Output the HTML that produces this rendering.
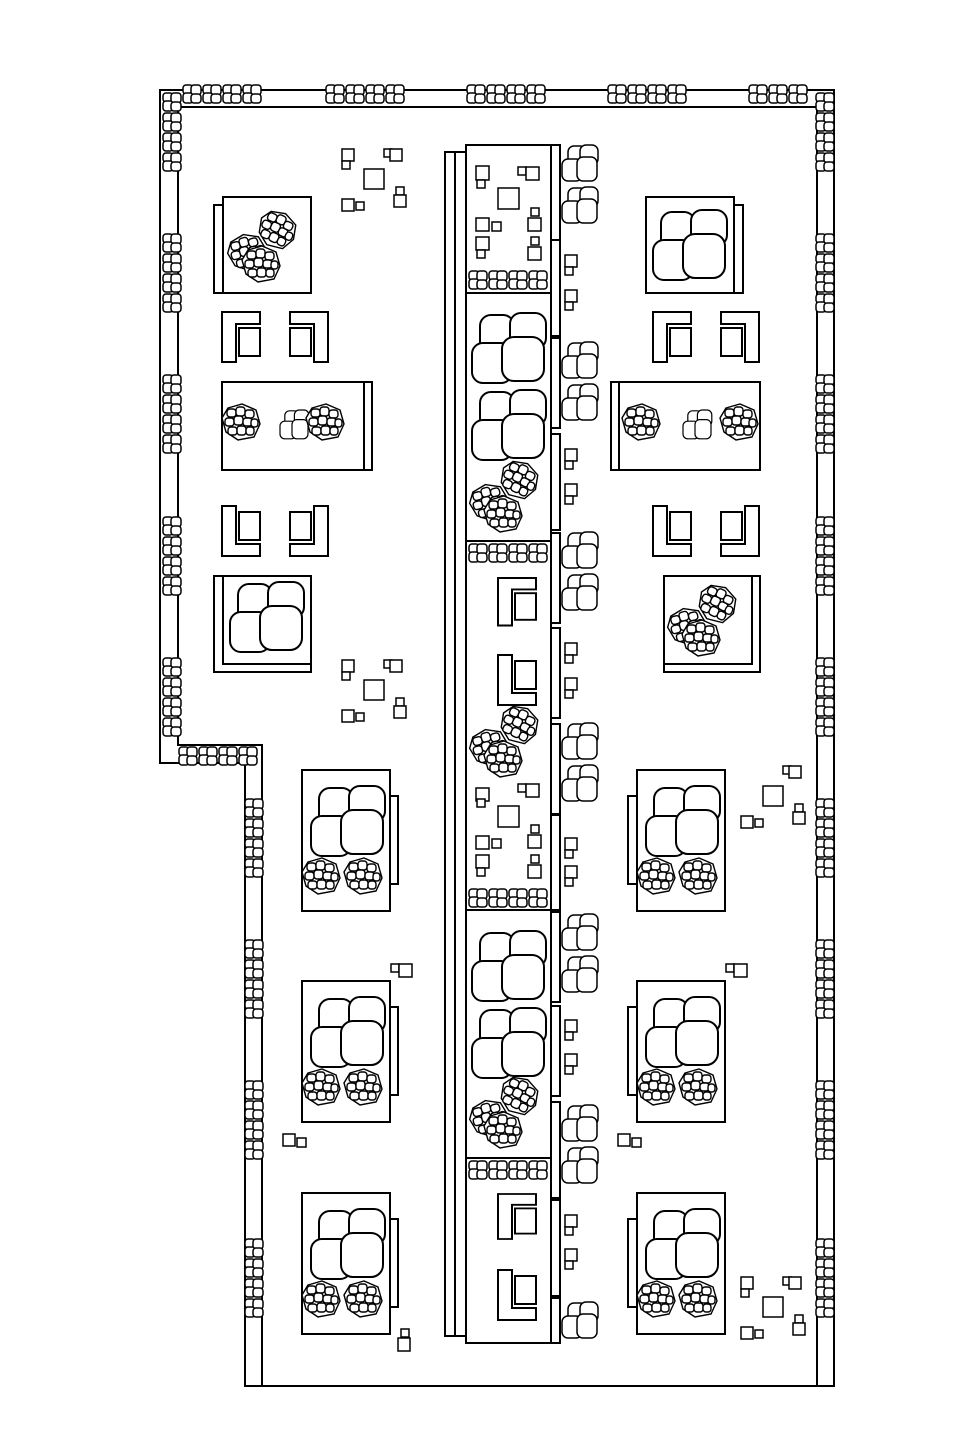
<!DOCTYPE html>
<html><head><meta charset="utf-8"><style>html,body{margin:0;padding:0;background:#fff}svg{display:block}</style></head><body>
<svg width="978" height="1454" viewBox="0 0 978 1454" xmlns="http://www.w3.org/2000/svg">
<defs>
<g id="sh" fill="#fff" stroke="#000" stroke-width="1.5">
<rect x="1" y="1" width="10" height="9" rx="3"/><rect x="9" y="1" width="10" height="10" rx="3"/><rect x="1" y="9" width="10" height="10" rx="3"/><rect x="9" y="10" width="10" height="9" rx="3"/>
</g>
<g id="sh4"><use href="#sh" x="0"/><use href="#sh" x="20"/><use href="#sh" x="40"/><use href="#sh" x="60"/></g>
<g id="sv4"><use href="#sh" y="0"/><use href="#sh" y="20"/><use href="#sh" y="40"/><use href="#sh" y="60"/></g>
<g id="big" fill="#fff" stroke="#000" stroke-width="2">
<rect x="8" y="2" width="34" height="38" rx="11"/><rect x="38" y="0" width="36" height="36" rx="11"/><rect x="0" y="30" width="40" height="40" rx="11"/><rect x="30" y="24" width="42" height="44" rx="12"/>
</g>
<g id="pair" fill="#fff" stroke="#000" stroke-width="1.5">
<rect x="6" y="1" width="18" height="20" rx="6"/><rect x="18" y="0" width="18" height="20" rx="6"/><rect x="0" y="14" width="20" height="22" rx="6"/><rect x="15" y="12" width="20" height="24" rx="6"/>
</g>
<g id="rk" fill="#fff" stroke="#000" stroke-width="1.4">
<polygon points="6,4 20,0 34,6 38,20 32,33 16,36 4,28 0,14"/>
<rect x="5" y="5" width="9" height="8" rx="3"/><rect x="14" y="3" width="9" height="9" rx="3"/><rect x="23" y="6" width="9" height="8" rx="3"/>
<rect x="3" y="14" width="9" height="8" rx="3"/><rect x="12" y="12" width="9" height="9" rx="3"/><rect x="21" y="14" width="9" height="8" rx="3"/><rect x="29" y="15" width="7" height="8" rx="3"/>
<rect x="6" y="23" width="9" height="8" rx="3"/><rect x="15" y="22" width="9" height="9" rx="3"/><rect x="24" y="23" width="8" height="8" rx="3"/>
</g>
<g id="rk2"><use href="#rk" transform="translate(30,0) rotate(25 20 18)"/><use href="#rk" transform="translate(0,22) rotate(-15 20 18)"/><use href="#rk" transform="translate(14,34)"/></g>
<g id="sqs" fill="#fff" stroke="#000" stroke-width="1.5">
<rect x="0" y="0" width="12" height="12"/><rect x="0" y="12" width="8" height="8"/><rect x="42" y="0" width="8" height="8"/><rect x="48" y="0" width="12" height="12"/>
<rect x="22" y="20" width="20" height="20"/><rect x="54" y="38" width="8" height="8"/><rect x="52" y="46" width="12" height="12"/>
<rect x="0" y="50" width="12" height="12"/><rect x="14" y="53" width="8" height="8"/>
</g>
<g id="sqsb" fill="#fff" stroke="#000" stroke-width="1.5">
<rect x="42" y="0" width="8" height="8"/><rect x="48" y="0" width="12" height="12"/>
<rect x="22" y="20" width="20" height="20"/><rect x="54" y="38" width="8" height="8"/><rect x="52" y="46" width="12" height="12"/>
<rect x="0" y="50" width="12" height="12"/><rect x="14" y="53" width="8" height="8"/>
</g>
<g id="chairL" fill="#fff" stroke="#000" stroke-width="2">
<path d="M0,0 H38 V12 H14 V50 H0 Z"/><rect x="17" y="16" width="21" height="28"/>
</g>
<g id="sp" fill="#fff" stroke="#000" stroke-width="1.5"><rect x="0" y="0" width="12" height="12"/><rect x="0" y="12" width="8" height="8"/></g>
<g id="tbl" fill="#fff" stroke="#000" stroke-width="2">
<rect x="0" y="0" width="88" height="141"/><use href="#big" x="9" y="16"/><use href="#rk" x="0" y="88"/><use href="#rk" x="42" y="88"/>
</g>
</defs>

<g fill="none" stroke="#000" stroke-width="2">
<path d="M160,90 H834 V1386 H245 V763 H160 Z"/>
<path d="M178,107 H817 V1386 M178,107 V745 H262 V1386"/>
</g>
<use href="#sh4" x="182" y="84"/><use href="#sh4" x="325" y="84"/><use href="#sh4" x="466" y="84"/><use href="#sh4" x="607" y="84"/>
<use href="#sh" x="748" y="84"/><use href="#sh" x="768" y="84"/><use href="#sh" x="788" y="84"/>
<use href="#sh4" x="178" y="746"/>
<g>
<use href="#sv4" x="162" y="92"/><use href="#sv4" x="162" y="233"/><use href="#sv4" x="162" y="374"/><use href="#sv4" x="162" y="516"/><use href="#sv4" x="162" y="657"/>
<use href="#sv4" x="244" y="798"/><use href="#sv4" x="244" y="939"/><use href="#sv4" x="244" y="1080"/><use href="#sv4" x="244" y="1238"/>
<use href="#sv4" x="815" y="92"/><use href="#sv4" x="815" y="233"/><use href="#sv4" x="815" y="374"/><use href="#sv4" x="815" y="516"/><use href="#sv4" x="815" y="657"/>
<use href="#sv4" x="815" y="798"/><use href="#sv4" x="815" y="939"/><use href="#sv4" x="815" y="1080"/><use href="#sv4" x="815" y="1238"/>
</g>

<g fill="#fff" stroke="#000" stroke-width="2">
<rect x="214" y="205" width="97" height="88"/><rect x="223" y="197" width="88" height="96"/>
<rect x="222" y="382" width="142" height="88"/><rect x="364" y="382" width="8" height="88"/>
<rect x="214" y="576" width="97" height="96"/><rect x="223" y="576" width="88" height="88"/>
</g>
<use href="#rk2" x="228" y="212"/>
<use href="#chairL" x="222" y="312"/><use href="#chairL" transform="translate(328,312) scale(-1,1)"/>
<use href="#rk" x="222" y="404"/><use href="#pair" transform="translate(280,410) scale(0.8)"/><use href="#rk" x="306" y="404"/>
<use href="#chairL" transform="translate(222,556) scale(1,-1)"/><use href="#chairL" transform="translate(328,556) scale(-1,-1)"/>
<use href="#big" x="230" y="582"/>
<use href="#sqs" x="342" y="149"/><use href="#sqs" x="342" y="660"/>

<g fill="#fff" stroke="#000" stroke-width="2">
<rect x="646" y="205" width="97" height="88"/><rect x="646" y="197" width="88" height="96"/>
<rect x="619" y="382" width="141" height="88"/><rect x="611" y="382" width="8" height="88"/>
<rect x="664" y="576" width="96" height="96"/><rect x="664" y="576" width="88" height="88"/>
</g>
<use href="#big" x="653" y="210"/>
<use href="#chairL" x="653" y="312"/><use href="#chairL" transform="translate(759,312) scale(-1,1)"/>
<use href="#rk" x="622" y="404"/><use href="#pair" transform="translate(683,410) scale(0.8)"/><use href="#rk" x="720" y="404"/>
<use href="#chairL" transform="translate(653,556) scale(1,-1)"/><use href="#chairL" transform="translate(759,556) scale(-1,-1)"/>
<use href="#rk2" x="668" y="586"/>

<g fill="#fff" stroke="#000" stroke-width="2">
<rect x="390" y="796" width="8" height="88"/><rect x="390" y="1007" width="8" height="88"/><rect x="390" y="1219" width="8" height="88"/>
<rect x="628" y="796" width="9" height="88"/><rect x="628" y="1007" width="9" height="88"/><rect x="628" y="1219" width="9" height="88"/>
</g>
<use href="#tbl" x="302" y="770"/><use href="#tbl" x="302" y="981"/><use href="#tbl" x="302" y="1193"/>
<use href="#tbl" x="637" y="770"/><use href="#tbl" x="637" y="981"/><use href="#tbl" x="637" y="1193"/>
<g fill="#fff" stroke="#000" stroke-width="1.5">
<rect x="391" y="964" width="8" height="8"/><rect x="399" y="964" width="13" height="13"/>
<rect x="726" y="964" width="8" height="8"/><rect x="734" y="964" width="13" height="13"/>
<rect x="283" y="1134" width="12" height="12"/><rect x="297" y="1138" width="9" height="9"/>
<rect x="618" y="1134" width="12" height="12"/><rect x="632" y="1138" width="9" height="9"/>
<rect x="401" y="1329" width="8" height="8"/><rect x="398" y="1338" width="12" height="13"/>
</g>
<use href="#sqsb" x="741" y="766"/><use href="#sqs" x="741" y="1277"/>

<g fill="#fff" stroke="#000" stroke-width="2">
<rect x="445" y="152" width="106" height="1184"/>
<line x1="455" y1="152" x2="455" y2="1336"/>
<rect x="466" y="145" width="85" height="1198"/>
<line x1="466" y1="293" x2="551" y2="293"/><line x1="466" y1="541" x2="551" y2="541"/>
<line x1="466" y1="910" x2="551" y2="910"/><line x1="466" y1="1158" x2="551" y2="1158"/>
<rect x="551" y="145" width="9" height="135"/><rect x="551" y="240" width="9" height="96"/>
<rect x="551" y="338" width="9" height="90"/><rect x="551" y="434" width="9" height="96"/>
<rect x="551" y="533" width="9" height="90"/><rect x="551" y="628" width="9" height="90"/>
<rect x="551" y="724" width="9" height="90"/><rect x="551" y="815" width="9" height="95"/>
<rect x="551" y="912" width="9" height="90"/><rect x="551" y="1006" width="9" height="90"/>
<rect x="551" y="1102" width="9" height="96"/><rect x="551" y="1200" width="9" height="96"/>
<rect x="551" y="1298" width="9" height="45"/>
</g>
<g>
<use href="#pair" x="562" y="145"/><use href="#pair" x="562" y="187"/>
<use href="#pair" x="562" y="342"/><use href="#pair" x="562" y="384"/>
<use href="#pair" x="562" y="532"/><use href="#pair" x="562" y="574"/>
<use href="#pair" x="562" y="723"/><use href="#pair" x="562" y="765"/>
<use href="#pair" x="562" y="914"/><use href="#pair" x="562" y="956"/>
<use href="#pair" x="562" y="1105"/><use href="#pair" x="562" y="1147"/>
<use href="#pair" x="562" y="1302"/>
</g>
<g>
<use href="#sp" x="565" y="255"/><use href="#sp" x="565" y="290"/><use href="#sp" x="565" y="449"/><use href="#sp" x="565" y="484"/>
<use href="#sp" x="565" y="643"/><use href="#sp" x="565" y="678"/><use href="#sp" x="565" y="838"/><use href="#sp" x="565" y="866"/>
<use href="#sp" x="565" y="1020"/><use href="#sp" x="565" y="1054"/><use href="#sp" x="565" y="1215"/><use href="#sp" x="565" y="1249"/>
</g>
<g fill="#fff" stroke="#000" stroke-width="1.5">
<rect x="476" y="166" width="13" height="14"/><rect x="477" y="180" width="8" height="8"/><rect x="518" y="167" width="8" height="8"/><rect x="526" y="167" width="13" height="13"/>
<rect x="498" y="188" width="21" height="21"/><rect x="531" y="208" width="8" height="8"/><rect x="528" y="218" width="13" height="13"/>
<rect x="476" y="218" width="13" height="13"/><rect x="492" y="222" width="9" height="9"/>
<rect x="476" y="237" width="13" height="13"/><rect x="477" y="250" width="8" height="8"/><rect x="531" y="237" width="8" height="8"/><rect x="528" y="247" width="13" height="13"/>
<rect x="476" y="788" width="13" height="13"/><rect x="477" y="799" width="8" height="8"/><rect x="518" y="784" width="8" height="8"/><rect x="526" y="784" width="13" height="13"/>
<rect x="498" y="806" width="21" height="21"/><rect x="531" y="825" width="8" height="8"/><rect x="528" y="835" width="13" height="13"/>
<rect x="476" y="836" width="13" height="13"/><rect x="492" y="839" width="9" height="9"/>
<rect x="476" y="855" width="13" height="13"/><rect x="477" y="868" width="8" height="8"/><rect x="531" y="855" width="8" height="8"/><rect x="528" y="865" width="13" height="13"/>
</g>
<use href="#sh4" x="468" y="270"/><use href="#sh4" x="468" y="543"/><use href="#sh4" x="468" y="888"/><use href="#sh4" x="468" y="1160"/>
<use href="#big" x="472" y="313"/><use href="#big" x="472" y="390"/><use href="#rk2" x="470" y="462"/>
<use href="#chairL" transform="translate(498,578) scale(1,0.95)"/>
<use href="#chairL" transform="translate(498,705) scale(1,-1)"/>
<use href="#rk2" x="470" y="707"/>
<use href="#big" x="472" y="931"/><use href="#big" x="472" y="1008"/><use href="#rk2" x="470" y="1078"/>
<use href="#chairL" transform="translate(498,1194) scale(1,0.9)"/>
<use href="#chairL" transform="translate(498,1320) scale(1,-1)"/>
</svg>
</body></html>
